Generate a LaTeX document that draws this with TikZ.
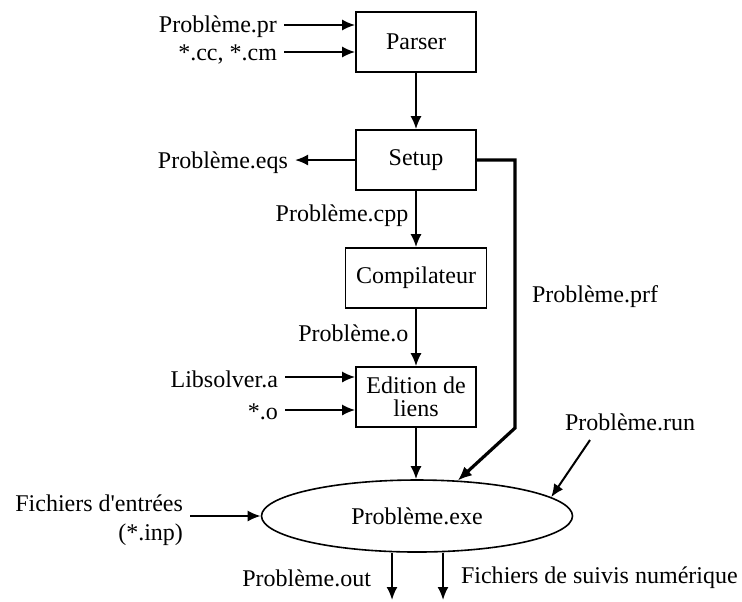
\documentclass[tikz,border=0pt]{standalone}
\usepackage{fontspec}
\setmainfont{Liberation Serif}
\usetikzlibrary{arrows.meta,shapes.geometric}

\begin{document}
\begin{tikzpicture}[x=0.5pt,y=-0.5pt,
    every node/.style={font=\fontsize{12}{11.5}\selectfont},
    box/.style={draw,line width=0.8pt,minimum width=60pt,minimum height=30pt,align=center,inner sep=2pt},
    arr/.style={line width=1pt,-{Latex[length=6.5pt,width=5.5pt]}},
    flux/.style={line width=1.6pt,-{Latex[length=7pt,width=6pt]}}]
    \useasboundingbox (0,0) rectangle (742,601);

    % chaine principale
    \node[box] (parser) at (416,42) {Parser};
    \node[box] (setup) at (416,160) {Setup};
    \node[box,minimum width=70.5pt] (comp) at (416,278) {Compilateur};
    \node[box] (edit) at (416,397) {Edition de\\liens};
    \node[ellipse,draw,line width=0.8pt,minimum width=155.5pt,minimum height=36pt,inner sep=0pt] (exe) at (417,516) {Problème.exe};

    \draw[arr] (parser) -- (setup);
    \draw[arr] (setup) -- node[left,pos=0.45] {Problème.cpp} (comp);
    \draw[arr] (comp) -- node[left,pos=0.42] {Problème.o} (edit);
    \draw[arr] (edit) -- (edit |- exe.north);

    % entrees du parser
    \node[anchor=east] (pr) at (284,27) {Problème.pr};
    \node[anchor=east] (cc) at (284,54) {*.cc, *.cm};
    \draw[arr] (pr.east) ++(0,-2) -- (parser.west |- 0,25);
    \draw[arr] (cc.east) ++(0,-2) -- (parser.west |- 0,52);

    % sorties du setup
    \node[anchor=east] (eqs) at (295,163) {Problème.eqs};
    \draw[arr] (setup) -- (setup -| eqs.east);
    \coordinate (c1) at (515,160);
    \coordinate (c2) at (515,428);
    \draw[flux] (setup.east) -- (c1) -- (c2) -- (exe.41);
    \node[anchor=west] (prf) at (525,297) {Problème.prf};

    % edition de liens
    \node[anchor=east] (lib) at (285,379) {Libsolver.a};
    \node[anchor=east] (objs) at (285,412) {*.o};
    \draw[arr] (lib.east) ++(0,-2) -- (edit.west |- 0,377);
    \draw[arr] (objs.east) ++(0,-2) -- (edit.west |- 0,410);

    % execution
    \node[align=right,anchor=east] (inp) at (190,520) {Fichiers d\textquotesingle entrées\\[3pt](*.inp)};
    \draw[arr] (inp.east |- exe.west) -- (exe.west);
    \node (run) at (630,422) {Problème.run};
    \coordinate (runfrom) at (590,440);
    \draw[arr] (runfrom) -- (exe.8);

    \coordinate (out1) at (392,600);
    \coordinate (out2) at (443,600);
    \draw[arr] (out1 |- exe.south) -- (out1);
    \draw[arr] (out2 |- exe.south) -- (out2);
    \node[anchor=east] (outlbl) at (378,578) {Problème.out};
    \node[anchor=west] (suivi) at (454,578) {Fichiers de suivis numérique};
\end{tikzpicture}
\end{document}
